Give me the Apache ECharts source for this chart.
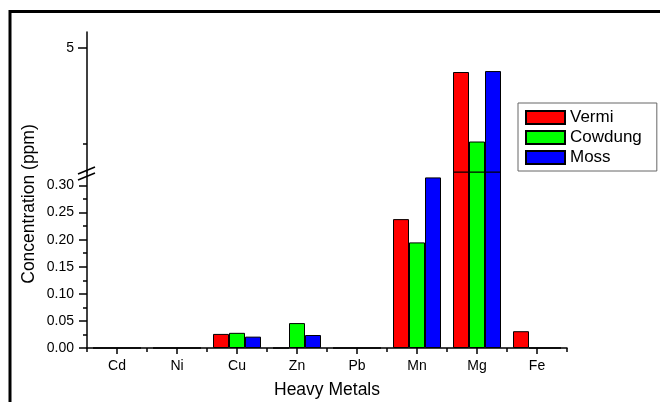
<!DOCTYPE html>
<html>
<head>
<meta charset="utf-8">
<script src="https://cdn.jsdelivr.net/npm/echarts@6/dist/echarts.min.js"></script>
<style>html,body{margin:0;padding:0;background:#fff}#c{width:660px;height:402px}</style>
</head>
<body>
<div id="c"></div>
<script>
const categories = ['Cd', 'Ni', 'Cu', 'Zn', 'Pb', 'Mn', 'Mg', 'Fe'];
const vermi   = [0, 0, 0.026, 0, 0, 0.238, 4.875, 0.031];
const cowdung = [0, 0, 0.028, 0.046, 0, 0.195, 4.51, 0];
const moss    = [0, 0, 0.021, 0.024, 0, 0.315, 4.88, 0];
const seriesNames = ['Vermi', 'Cowdung', 'Moss'];
const seriesColors = ['#FF0000', '#00FF00', '#0000FF'];
const lowerTicks = [0, 0.05, 0.10, 0.15, 0.20, 0.25, 0.30];
const lowerMinorTicks = [0.025, 0.075, 0.125, 0.175, 0.225, 0.275];
const upperTicks = [5];
const upperMinorTicks = [4.5];
const lowerMax = 0.325;
const upperMin = 4.35, upperMax = 5.085;

const font = 'Liberation Sans, Arial, sans-serif';
const allData = [vermi, cowdung, moss];
const series = [];
allData.forEach((d, i) => {
  const style = { color: seriesColors[i], borderColor: '#000', borderWidth: 1 };
  series.push({
    name: seriesNames[i], type: 'bar', xAxisIndex: 0, yAxisIndex: 0,
    data: d, barWidth: 16, barGap: '0%', itemStyle: style, clip: true
  });
  series.push({
    name: seriesNames[i], type: 'bar', xAxisIndex: 2, yAxisIndex: 2,
    data: d.map(v => v > lowerMax ? v : '-'), barWidth: 16, barGap: '0%', itemStyle: style, clip: true
  });
});

const axisLineStyle = { color: '#000', width: 1.5 };
const chart = echarts.init(document.getElementById('c'), null, { renderer: 'canvas' });
chart.setOption({
  animation: false,
  backgroundColor: '#fff',
  textStyle: { fontFamily: font },
  grid: [
    { left: 87, top: 172, width: 480, height: 176 },
    { left: 87, top: 32, width: 480, height: 140 }
  ],
  legend: {
    data: seriesNames,
    orient: 'vertical', left: 518, top: 103,
    padding: [6, 15, 5, 7],
    itemWidth: 39, itemHeight: 13, itemGap: 3,
    borderColor: '#666', borderWidth: 1,
    icon: 'rect',
    textStyle: { fontSize: 17, color: '#000', fontFamily: font }
  },
  xAxis: [
    {
      gridIndex: 0, type: 'category', data: categories, position: 'bottom',
      axisLine: { lineStyle: axisLineStyle },
      axisTick: { show: true, alignWithLabel: false, length: 4, lineStyle: { color: '#000', width: 1.5 } },
      axisLabel: { color: '#000', fontSize: 14, margin: 11, fontFamily: font },
      name: 'Heavy Metals', nameLocation: 'middle', nameGap: 33,
      nameTextStyle: { fontSize: 17.5, color: '#000', fontFamily: font }
    },
    {
      gridIndex: 0, type: 'category', data: categories, position: 'bottom', offset: 0,
      axisLine: { show: false },
      axisTick: { show: true, alignWithLabel: true, length: 6, lineStyle: { color: '#000', width: 1.5 } },
      axisLabel: { show: false }
    },
    { gridIndex: 1, type: 'category', data: categories, show: false }
  ],
  yAxis: [
    {
      gridIndex: 0, type: 'value', min: 0, max: lowerMax, position: 'left', offset: 0,
      axisLine: { show: true, lineStyle: axisLineStyle },
      axisTick: { show: true, length: 8, customValues: lowerTicks, lineStyle: { color: '#000', width: 1.5 } },
      axisLabel: { customValues: lowerTicks, color: '#000', fontSize: 14, margin: 13, fontFamily: font,
        formatter: v => v.toFixed(2) },
      splitLine: { show: false }
    },
    {
      gridIndex: 0, type: 'value', min: 0, max: lowerMax, position: 'left', offset: 0,
      axisLine: { show: false },
      axisTick: { show: true, length: 4, customValues: lowerMinorTicks, lineStyle: { color: '#000', width: 1.5 } },
      axisLabel: { show: false }, splitLine: { show: false }
    },
    {
      gridIndex: 1, type: 'value', min: upperMin, max: upperMax, position: 'left', offset: 0,
      axisLine: { show: true, lineStyle: axisLineStyle },
      axisTick: { show: true, length: 9, customValues: upperTicks, lineStyle: { color: '#000', width: 1.5 } },
      axisLabel: { customValues: upperTicks, color: '#000', fontSize: 14, margin: 13, fontFamily: font,
        formatter: v => String(Math.round(v)) },
      splitLine: { show: false }
    },
    {
      gridIndex: 1, type: 'value', min: upperMin, max: upperMax, position: 'left', offset: 0,
      axisLine: { show: false },
      axisTick: { show: true, length: 4, customValues: upperMinorTicks, lineStyle: { color: '#000', width: 1.5 } },
      axisLabel: { show: false }, splitLine: { show: false }
    }
  ],
  series: series,
  graphic: [
    { type: 'rect', shape: { x: 10, y: 11.5, width: 700, height: 450 },
      style: { fill: 'none', stroke: '#000', lineWidth: 3 }, silent: true },
    { type: 'line', shape: { x1: 78, y1: 174, x2: 95, y2: 167 }, style: { stroke: '#000', lineWidth: 1.5 } },
    { type: 'line', shape: { x1: 78, y1: 180, x2: 95, y2: 173 }, style: { stroke: '#000', lineWidth: 1.5 } },
    { type: 'text', x: 29, y: 204, rotation: Math.PI / 2,
      style: { text: 'Concentration (ppm)', font: '17.5px ' + font, fill: '#000',
        textAlign: 'center', textVerticalAlign: 'middle' } }
  ]
});
</script>
</body>
</html>
